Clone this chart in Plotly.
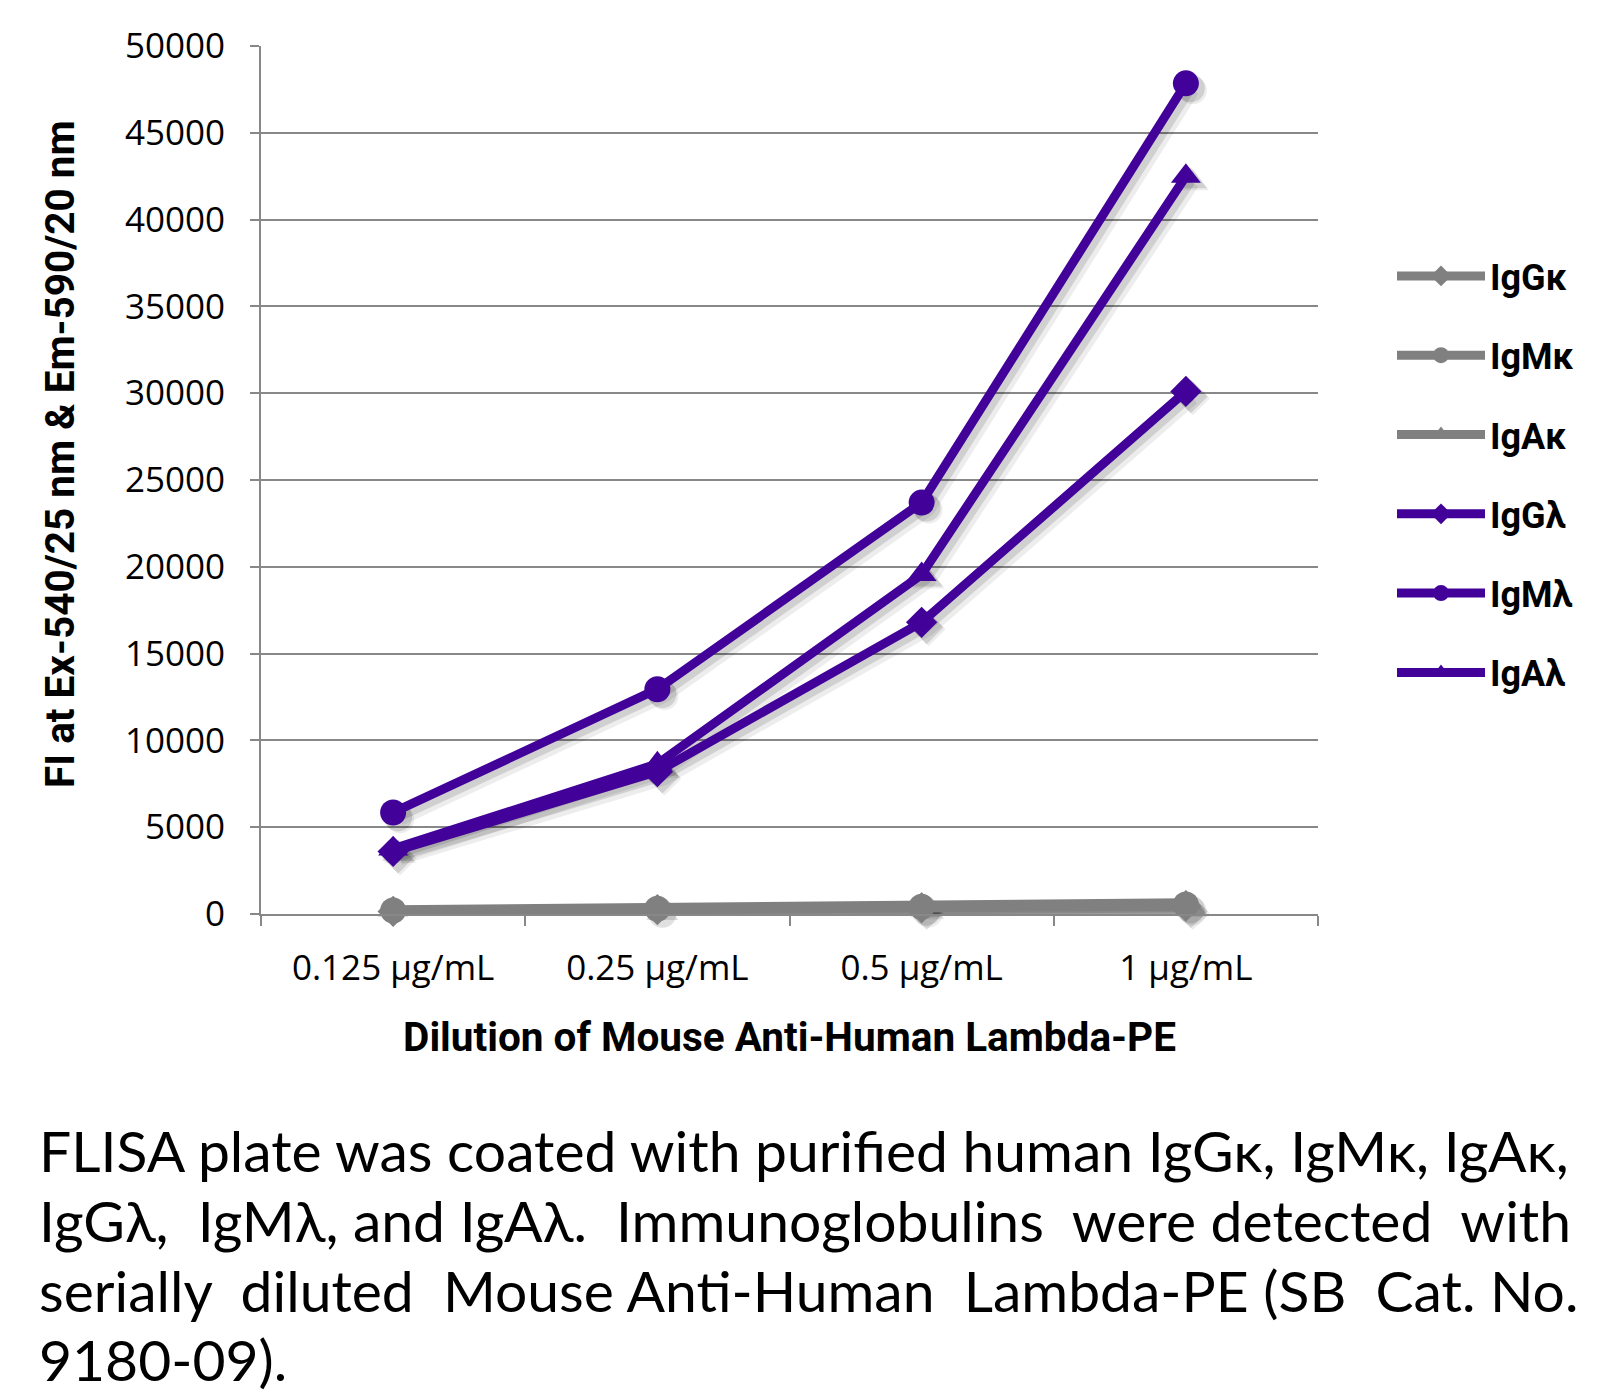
import plotly.graph_objects as go

# ---------------- data ----------------
categories = ["0.125 µg/mL", "0.25 µg/mL", "0.5 µg/mL", "1 µg/mL"]
series_names = ["IgGκ", "IgMκ", "IgAκ", "IgGλ", "IgMλ", "IgAλ"]
igg_kappa = [150, 250, 350, 450]
igm_kappa = [200, 300, 420, 550]
iga_kappa = [250, 350, 500, 650]
igg_lambda = [3600, 8200, 16800, 30100]
igm_lambda = [5850, 12950, 23700, 47850]
iga_lambda = [3750, 8650, 19550, 42500]
y_ticks = [0, 5000, 10000, 15000, 20000, 25000, 30000, 35000, 40000, 45000, 50000]
NB = "\u00a0"
caption_lines = [
    "FLISA plate was coated with purified human IgGκ, IgMκ, IgAκ,",
    "IgGλ," + NB + " IgMλ, and IgAλ." + NB + " Immunoglobulins" + NB + " were detected" + NB + " with",
    "serially" + NB + " diluted" + NB + " Mouse Anti-Human" + NB + " Lambda-PE (SB" + NB + " Cat. No.",
    "9180-09).",
]

values = [igg_kappa, igm_kappa, iga_kappa, igg_lambda, igm_lambda, iga_lambda]
GRAY = "#808080"
PURPLE = "#42029A"
colors = [GRAY, GRAY, GRAY, PURPLE, PURPLE, PURPLE]
symbols = ["diamond", "circle", "triangle-up", "diamond", "circle", "triangle-up"]
msizes = [24, 26, 26, 24, 26, 26]

# ---------------- layout geometry (page pixels) ----------------
PAGE_W, PAGE_H = 1608, 1394
BODY = 8  # default body margin of the html page
W, H = PAGE_W - BODY, PAGE_H - BODY
L, R, T, B = 261, 1318, 46, 914
PW, PH = R - L, B - T
YMAX = 50000


def px_x(px):
    return (px - L) / PW


def px_y(py):
    return (B - py) / PH


fig = go.Figure()

# shadow layers (drawn on shifted overlay axes)
shadow_layers = [("x2", "y2", 7, "rgba(0,0,0,0.07)", 13),
                 ("x3", "y3", 5, "rgba(0,0,0,0.12)", 9)]
for xa, ya, off, col, lw in shadow_layers:
    for name, vals, sym, ms in zip(series_names, values, symbols, msizes):
        fig.add_trace(go.Scatter(
            x=categories, y=vals, xaxis=xa, yaxis=ya, mode="lines+markers",
            line=dict(color=col, width=lw), marker=dict(symbol=sym, size=ms + 2, color=col),
            showlegend=False, hoverinfo="skip", cliponaxis=False))

for i, (name, vals, col, sym, ms) in enumerate(zip(series_names, values, colors, symbols, msizes)):
    fig.add_trace(go.Scatter(
        x=categories, y=vals, xaxis="x4", yaxis="y4", mode="lines+markers", name=name,
        legendgroup=name,
        line=dict(color=col, width=9), marker=dict(symbol=sym, size=ms, color=col),
        cliponaxis=False))

# invisible trace so the primary grid axes render
fig.add_trace(go.Scatter(x=categories, y=[None] * len(categories), showlegend=False,
                         hoverinfo="skip", mode="lines"))

cat_px = PW / len(categories)
y_per_px = YMAX / PH

axis_common = dict(visible=False, showgrid=False, zeroline=False)
layout_axes = {}
for xa, ya, off, col, lw in shadow_layers:
    n = xa[1:]
    layout_axes["xaxis" + n] = dict(axis_common, overlaying="x", anchor="y" + n,
                                    type="category",
                                    range=[-0.5 - off / cat_px, len(categories) - 0.5 - off / cat_px])
    layout_axes["yaxis" + n] = dict(axis_common, overlaying="y", anchor="x" + n,
                                    range=[off * y_per_px, YMAX + off * y_per_px])
layout_axes["xaxis4"] = dict(axis_common, overlaying="x", anchor="y4", type="category",
                             range=[-0.5, len(categories) - 0.5])
layout_axes["yaxis4"] = dict(axis_common, overlaying="y", anchor="x4", range=[0, YMAX])

tick_font = dict(family="Open Sans, sans-serif", size=35, color="#000000")
title_font = dict(family="Roboto, sans-serif", size=40.5, color="#000000")

fig.update_layout(
    width=W, height=H,
    margin=dict(l=L - BODY, r=PAGE_W - R, t=T - BODY, b=PAGE_H - B),
    paper_bgcolor="white", plot_bgcolor="white",
    showlegend=True,
    legend=dict(x=px_x(1392), y=px_y(246), xanchor="left", yanchor="top",
                font=dict(family="Roboto, sans-serif", size=36, color="#000000", weight="bold"),
                tracegroupgap=29.5, itemwidth=88, bgcolor="rgba(0,0,0,0)",
                traceorder="grouped"),
    xaxis=dict(type="category", categoryorder="array", categoryarray=categories,
               range=[-0.5, len(categories) - 0.5],
               showline=True, linecolor="#888888", linewidth=2,
               ticks="outside", tickson="boundaries", ticklen=10, tickwidth=2, tickcolor="#888888",
               tickfont=tick_font, ticklabelstandoff=22, showgrid=False, zeroline=False,
               title=dict(text="<b>Dilution of Mouse Anti-Human Lambda-PE</b>",
                          font=title_font, standoff=34)),
    yaxis=dict(range=[0, YMAX], tickvals=y_ticks, ticktext=[str(v) for v in y_ticks],
               showline=True, linecolor="#888888", linewidth=2,
               ticks="outside", ticklen=9, tickwidth=2, tickcolor="#888888",
               showgrid=True, gridcolor="#888888", gridwidth=2, zeroline=False,
               tickfont=tick_font, ticklabelstandoff=18),
    **layout_axes,
)

# y-axis title (placed above plot centre, as in the reference)
fig.add_annotation(text="<b>FI at Ex-540/25 nm & Em-590/20 nm</b>", xref="paper", yref="paper",
                   x=px_x(60), y=px_y(454), xanchor="center", yanchor="middle",
                   textangle=-90, showarrow=False, font=title_font)

caption_centers = [1150, 1220, 1290, 1359]
for line, cy in zip(caption_lines, caption_centers):
    fig.add_annotation(text=line, xref="paper", yref="paper", x=px_x(37), y=px_y(cy),
                       xanchor="left", yanchor="middle", showarrow=False,
                       font=dict(family="Lato, sans-serif", size=57, color="#000000"))

fig.write_html("out.html")
